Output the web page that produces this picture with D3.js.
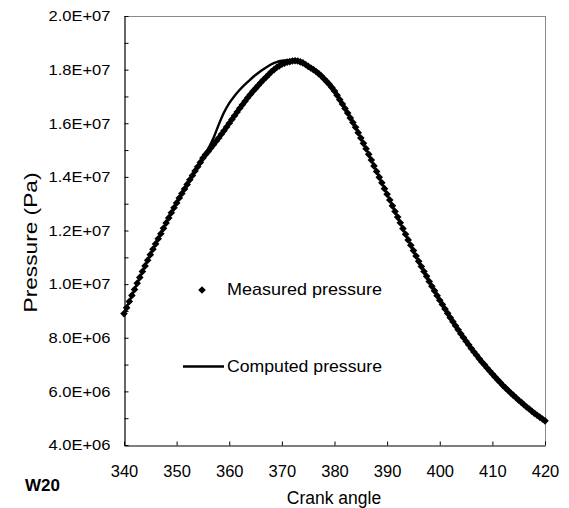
<!DOCTYPE html>
<html>
<head>
<meta charset="utf-8">
<script src="https://cdn.jsdelivr.net/npm/d3@7"></script>
<style>
  html, body { margin: 0; padding: 0; background: #fff; }
  svg { display: block; font-family: "Liberation Sans", Arial, sans-serif; }
</style>
</head>
<body>
<svg id="chart" width="569" height="508"></svg>
<script>
// ---- data (pressure in Pa) ----
const measuredAngle = d3.range(340, 420.25, 0.5);
const measuredPressureMPa = [
  8.90, 9.12, 9.35, 9.58, 9.80, 10.03, 10.25, 10.47, 10.68, 10.89,
  11.10, 11.30, 11.50, 11.69, 11.88, 12.08, 12.28, 12.47, 12.66, 12.85,
  13.03, 13.21, 13.38, 13.55, 13.72, 13.89, 14.05, 14.22, 14.38, 14.54,
  14.70, 14.83, 14.95, 15.08, 15.20, 15.33, 15.45, 15.59, 15.72, 15.86,
  16.00, 16.14, 16.28, 16.42, 16.56, 16.69, 16.82, 16.95, 17.07, 17.19,
  17.30, 17.41, 17.52, 17.62, 17.72, 17.82, 17.92, 18.00, 18.08, 18.14,
  18.20, 18.24, 18.28, 18.30, 18.32, 18.33, 18.32, 18.29, 18.25, 18.19,
  18.12, 18.06, 18.00, 17.93, 17.85, 17.76, 17.66, 17.56, 17.45, 17.33,
  17.20, 17.04, 16.88, 16.72, 16.55, 16.38, 16.20, 16.03, 15.85, 15.65,
  15.45, 15.25, 15.05, 14.84, 14.63, 14.41, 14.20, 13.99, 13.78, 13.56,
  13.35, 13.14, 12.92, 12.71, 12.50, 12.29, 12.07, 11.86, 11.65, 11.45,
  11.25, 11.05, 10.85, 10.66, 10.47, 10.29, 10.10, 9.92, 9.75, 9.57,
  9.40, 9.24, 9.07, 8.91, 8.75, 8.60, 8.45, 8.30, 8.15, 8.01,
  7.87, 7.74, 7.60, 7.47, 7.35, 7.22, 7.10, 6.99, 6.87, 6.76,
  6.65, 6.54, 6.43, 6.33, 6.22, 6.13, 6.03, 5.94, 5.85, 5.76,
  5.67, 5.59, 5.50, 5.42, 5.34, 5.26, 5.18, 5.11, 5.04, 4.97,
  4.90
];
const computedAngle = [340, 342, 345, 348, 350, 352, 354, 355, 356, 357, 358, 359, 360,
  361, 362, 363, 364, 365, 366, 367, 368, 369, 370, 371, 372, 373, 374, 375, 376,
  378, 380, 382, 384, 386, 388, 390, 392, 394, 396, 398, 400, 402, 404, 406, 408,
  410, 412, 414, 416, 418, 420];
const computedPressureMPa = [8.90, 9.80, 11.10, 12.28, 13.03, 13.72, 14.38, 14.70, 15.05, 15.45, 15.95, 16.40, 16.75,
  17.02, 17.25, 17.45, 17.63, 17.80, 17.95, 18.08, 18.20, 18.28, 18.33, 18.35, 18.35, 18.34, 18.28, 18.14, 18.00,
  17.66, 17.20, 16.55, 15.85, 15.05, 14.20, 13.35, 12.50, 11.65, 10.85, 10.10, 9.40, 8.75, 8.15, 7.60, 7.10,
  6.65, 6.22, 5.85, 5.50, 5.18, 4.90];

const xTickValues = [340, 350, 360, 370, 380, 390, 400, 410, 420];
const yTickValues = [4e6, 5e6, 6e6, 7e6, 8e6, 9e6, 1e7, 1.1e7, 1.2e7, 1.3e7, 1.4e7, 1.5e7, 1.6e7, 1.7e7, 1.8e7, 1.9e7, 2e7];
const yTickLabels = ["4.0E+06", "", "6.0E+06", "", "8.0E+06", "", "1.0E+07", "", "1.2E+07", "", "1.4E+07", "", "1.6E+07", "", "1.8E+07", "", "2.0E+07"];
const seriesNames = ["Measured pressure", "Computed pressure"];
const xTitle = "Crank angle";
const yTitle = "Pressure (Pa)";
const panelLabel = "W20";

// ---- layout ----
const L = 124, R = 545, T = 16, B = 445;
const svg = d3.select("#chart");
const x = d3.scaleLinear().domain([340, 420]).range([L, R]);
const y = d3.scaleLinear().domain([4e6, 2e7]).range([B, T]);

// plot frame (top/right gray)
svg.append("line").attr("x1", L).attr("x2", R + 0.5).attr("y1", T + 0.5).attr("y2", T + 0.5)
  .attr("stroke", "#8a8a8a").attr("stroke-width", 1);
svg.append("line").attr("x1", R + 0.5).attr("x2", R + 0.5).attr("y1", T).attr("y2", B)
  .attr("stroke", "#8a8a8a").attr("stroke-width", 1);

// axes
const yAxis = d3.axisLeft(y).tickValues(yTickValues)
  .tickFormat((d, i) => yTickLabels[i]).tickSizeInner(-4).tickSizeOuter(0).tickPadding(14);
const gy = svg.append("g").attr("transform", `translate(${L + 0.5},0)`).call(yAxis);
gy.selectAll("text").attr("font-size", 15).attr("fill", "#000")
  .attr("font-family", "'Liberation Sans', Arial, sans-serif")
  .attr("textLength", function () { return this.textContent ? 62 : null; })
  .attr("lengthAdjust", "spacingAndGlyphs");

const xAxis = d3.axisBottom(x).tickValues(xTickValues)
  .tickFormat(d3.format("d")).tickSizeInner(-4).tickSizeOuter(0).tickPadding(20);
const gx = svg.append("g").attr("transform", `translate(0,${B + 0.5})`).call(xAxis);
gx.selectAll("text").attr("font-size", 16.5).attr("fill", "#000")
  .attr("font-family", "'Liberation Sans', Arial, sans-serif");

[gx, gy].forEach(g => {
  g.selectAll("path.domain").attr("stroke", "#000").attr("stroke-width", 1.2);
  g.selectAll(".tick line").attr("stroke", "#000").attr("stroke-width", 1);
});

// measured markers
const diamond = r => `M0,${-r}L${r},0L0,${r}L${-r},0Z`;
const measured = measuredAngle.map((a, i) => [a, measuredPressureMPa[i] * 1e6]);
svg.append("g").selectAll("path").data(measured).join("path")
  .attr("d", diamond(3.8))
  .attr("transform", d => `translate(${x(d[0])},${y(d[1])})`)
  .attr("fill", "#000");

// computed line
const computed = computedAngle.map((a, i) => [a, computedPressureMPa[i] * 1e6]);
svg.append("path").datum(computed)
  .attr("d", d3.line().x(d => x(d[0])).y(d => y(d[1])).curve(d3.curveMonotoneX))
  .attr("fill", "none").attr("stroke", "#000").attr("stroke-width", 2.4)
  .attr("stroke-linejoin", "round");

// legend
svg.append("path").attr("d", diamond(3.8)).attr("transform", "translate(202,290)").attr("fill", "#000");
svg.append("text").attr("x", 227).attr("y", 295).attr("font-size", 17)
  .attr("textLength", 155).attr("lengthAdjust", "spacingAndGlyphs").text(seriesNames[0]);
svg.append("line").attr("x1", 183).attr("x2", 224).attr("y1", 366.5).attr("y2", 366.5)
  .attr("stroke", "#000").attr("stroke-width", 2.6);
svg.append("text").attr("x", 227).attr("y", 372).attr("font-size", 17)
  .attr("textLength", 155).attr("lengthAdjust", "spacingAndGlyphs").text(seriesNames[1]);

// titles
svg.append("text").attr("x", 334).attr("y", 504).attr("text-anchor", "middle")
  .attr("font-size", 17.5).text(xTitle);
svg.append("text").attr("transform", "translate(36.5,242.5) rotate(-90)")
  .attr("text-anchor", "middle").attr("font-size", 18)
  .attr("textLength", 140).attr("lengthAdjust", "spacingAndGlyphs").text(yTitle);
svg.append("text").attr("x", 25).attr("y", 490.5).attr("font-size", 17)
  .attr("font-weight", "bold").text(panelLabel);
</script>
</body>
</html>
